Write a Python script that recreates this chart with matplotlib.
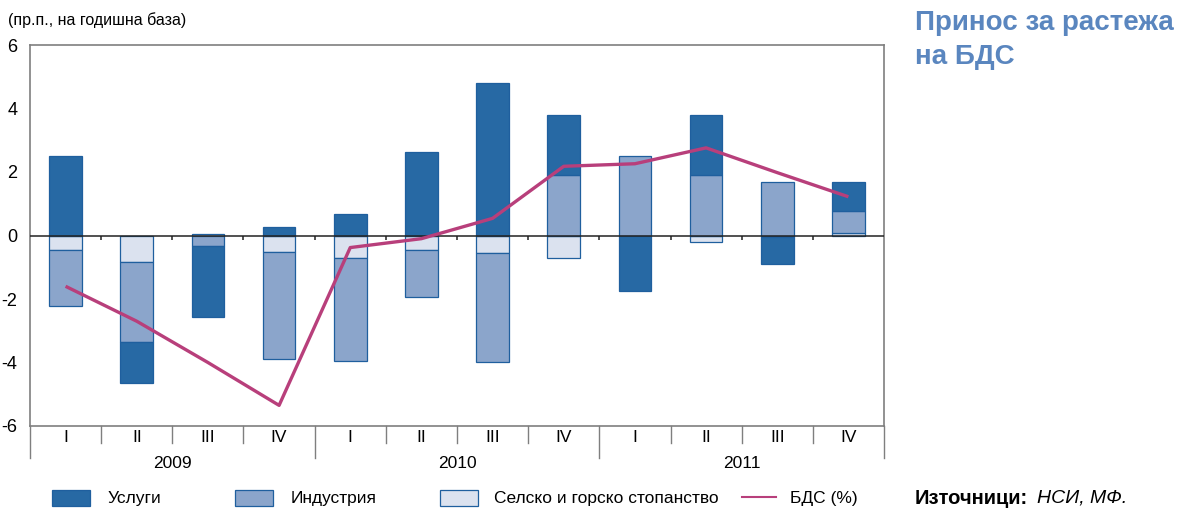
import numpy as np
import matplotlib
matplotlib.use("Agg")
import matplotlib.pyplot as plt
from matplotlib.patches import Rectangle
from matplotlib.lines import Line2D
import matplotlib.transforms as mtransforms

plt.rcParams['font.family'] = ['Liberation Sans', 'DejaVu Sans']

# data (percentage points, y/y)
quarters = ['I', 'II', 'III', 'IV'] * 3
years = ['2009', '2010', '2011']
agri = [-0.45, -0.85, 0.05, -0.52, -0.70, -0.46, -0.56, -0.72, 0.0, -0.19, -0.05, 0.07]
industry = [-1.78, -2.49, -0.33, -3.38, -3.24, -1.48, -3.42, 1.90, 2.51, 1.90, 1.69, 0.70]
services = [2.49, -1.29, -2.24, 0.27, 0.69, 2.62, 4.81, 1.91, -1.75, 1.91, -0.85, 0.93]
gdp = [-1.6, -2.7, -4.0, -5.35, -0.38, -0.1, 0.54, 2.18, 2.26, 2.76, 1.98, 1.22]

series = [
    ('Селско и горско стопанство', agri, '#dbe2ef'),
    ('Индустрия', industry, '#8ba5cb'),
    ('Услуги', services, '#2769a4'),
]
edge = '#1f5f9e'
line_col = '#b83f7b'

fig = plt.figure(figsize=(11.79, 5.09), dpi=100)
ax = fig.add_axes([30 / 1179, 1 - 426 / 509, (884 - 30) / 1179, (426 - 45) / 509])

x = np.arange(len(quarters))
pos = np.zeros(len(x))
neg = np.zeros(len(x))
for name, vals, col in series:
    v = np.array(vals)
    bottom = np.where(v >= 0, pos, neg)
    ax.bar(x, v, width=0.46, bottom=bottom, color=col, edgecolor=edge, linewidth=0.9, zorder=2)
    pos = pos + np.where(v >= 0, v, 0)
    neg = neg + np.where(v < 0, v, 0)

ax.plot(x, gdp, color=line_col, lw=2.4, zorder=4, solid_capstyle='butt')

ax.set_xlim(-0.5, len(x) - 0.5)
ax.set_ylim(-6, 6)
ax.set_yticks(np.arange(-6, 7, 2))
ax.set_yticklabels([str(t) for t in range(-6, 7, 2)])
ax.tick_params(axis='y', length=0, pad=9, labelsize=13)
ax.set_xticks([])
for s in ax.spines.values():
    s.set_color('#7f7f7f')
    s.set_linewidth(1.2)

# zero line with small ticks between quarters
ax.axhline(0, color='#222222', lw=1.1, zorder=3)
ax.vlines(x[:-1] + 0.5, -0.15, 0, color='#222222', lw=1.1, zorder=3)

# category axis below the plot
trans = mtransforms.blended_transform_factory(ax.transData, fig.transFigure)
def fy(py):
    return 1 - py / 509

for i in range(len(x) + 1):
    xb = i - 0.5
    long = i % 4 == 0
    y_end = 458 if long else 443
    ax.add_line(Line2D([xb, xb], [fy(426), fy(y_end)], transform=trans, color='#7f7f7f',
                       lw=1.0, clip_on=False))
for i, q in enumerate(quarters):
    ax.text(i, fy(438), q, transform=trans, ha='center', va='center', fontsize=12.5)
for j, yr in enumerate(years):
    ax.text(j * 4 + 1.5, fy(463), yr, transform=trans, ha='center', va='center', fontsize=12.5)

# y unit label and title
fig.text(8 / 1179, fy(20), '(пр.п., на годишна база)', ha='left', va='center', fontsize=11.5)
fig.text(915 / 1179, fy(40), 'Принос за растежа\nна БДС', ha='left', va='center',
         fontsize=20, fontweight='bold', color='#5a86bf', linespacing=1.4)

# legend
leg_items = [('Услуги', '#2769a4', 52, 108), ('Индустрия', '#8ba5cb', 235, 291),
             ('Селско и горско стопанство', '#dbe2ef', 440, 494)]
for name, col, px, tx in leg_items:
    fig.patches.append(Rectangle((px / 1179, fy(506)), 38 / 1179, 16 / 509, transform=fig.transFigure,
                                 facecolor=col, edgecolor=edge, lw=0.9))
    fig.text(tx / 1179, fy(498), name, ha='left', va='center', fontsize=12.5)
fig.lines.append(Line2D([742 / 1179, 776 / 1179], [fy(497), fy(497)], transform=fig.transFigure,
                        color=line_col, lw=1.5))
fig.text(790 / 1179, fy(498), 'БДС (%)', ha='left', va='center', fontsize=12.5)

fig.text(915 / 1179, fy(498), 'Източници:', ha='left', va='center', fontsize=14.5, fontweight='bold')
fig.text(1037 / 1179, fy(498), 'НСИ, МФ.', ha='left', va='center', fontsize=14, fontstyle='italic')

fig.savefig('out.png', dpi=100)
